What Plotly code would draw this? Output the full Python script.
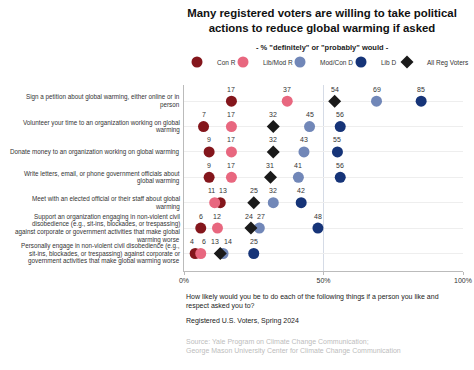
import plotly.graph_objects as go

categories = [
    "Sign a petition about global warming, either online or in<br>person",
    "Volunteer your time to an organization working on global<br>warming",
    "Donate money to an organization working on global warming",
    "Write letters, email, or phone government officials about<br>global warming",
    "Meet with an elected official or their staff about global<br>warming",
    "Support an organization engaging in non-violent civil<br>disobedience (e.g., sit-ins, blockades, or trespassing)<br>against corporate or government activities that make global<br>warming worse",
    "Personally engage in non-violent civil disobedience (e.g.,<br>sit-ins, blockades, or trespassing) against corporate or<br>government activities that make global warming worse",
]
con_r = [17, 7, 9, 9, 13, 6, 4]
lib_mod_r = [37, 17, 17, 17, 11, 12, 6]
mod_con_d = [69, 45, 43, 41, 32, 27, 14]
lib_d = [85, 56, 55, 56, 42, 48, 25]
all_reg = [54, 32, 32, 31, 25, 24, 13]

x_ticks = [0, 50, 100]
x_ticklabels = ["0%", "50%", "100%"]

series_names = ["Con R", "Lib/Mod R", "Mod/Con D", "Lib D", "All Reg Voters"]
series_values = [con_r, lib_mod_r, mod_con_d, lib_d, all_reg]
series_colors = ["#84161c", "#e8677f", "#7187b8", "#163478", "#1a1a1a"]
series_symbols = ["circle", "circle", "circle", "circle", "diamond"]
series_sizes = [11, 11, 11, 11, 10]
legend_widths = [1, 12, 16, 1, 42]

W, H = 474, 370
ML, MR, MT, MB = 184, 11, 85, 99
PW, PH = W - ML - MR, H - MT - MB

FONT = "Liberation Sans, Arial, sans-serif"
fig = go.Figure()
for name, vals, color, sym, size, lw in zip(series_names, series_values, series_colors,
                                            series_symbols, series_sizes, legend_widths):
    fig.add_trace(go.Scatter(
        x=vals, y=categories, mode="markers", name=name, legendwidth=lw,
        marker=dict(color=color, symbol=sym, size=size, line=dict(width=0)),
        hoverinfo="x+name",
    ))

annotations = []
# value labels above markers, nudged apart when close
for i, cat in enumerate(categories):
    vals = [(series_values[k][i], k) for k in range(len(series_values))]
    vals_sorted = sorted(vals)
    shifts = {k: 0 for _, k in vals}
    for a, b in zip(vals_sorted, vals_sorted[1:]):
        d = b[0] - a[0]
        if d <= 3:
            s = 5 if d <= 1 else (3 if d == 2 else 2)
            shifts[a[1]] -= s
            shifts[b[1]] += s
    for v, k in vals:
        annotations.append(dict(
            x=v, y=cat, xref="x", yref="y", text=str(v), showarrow=False,
            yshift=12, xshift=shifts[k], font=dict(size=7, color="#333333", family=FONT),
        ))

# category labels, one line at a time for tight line spacing
LINE = 7.6
for cat in categories:
    lines = cat.split("<br>")
    n = len(lines)
    for j, ln in enumerate(lines):
        annotations.append(dict(
            x=0, y=cat, xref="paper", yref="y", text=ln, showarrow=False,
            xanchor="right", yanchor="middle", xshift=-2,
            yshift=((n - 1) / 2 - j) * LINE,
            font=dict(size=6.3, color="#333333", family=FONT),
        ))

def px_x(x):
    return (x - ML) / PW

def px_y(y):
    return (H - MB - y) / PH

annotations += [
    dict(xref="paper", yref="paper", x=0, y=px_y(291), xanchor="left", yanchor="top", align="left",
         text="How likely would you be to do each of the following things if a person you like and<br>respect asked you to?",
         showarrow=False, font=dict(size=7, color="#222222", family=FONT)),
    dict(xref="paper", yref="paper", x=0, y=px_y(315), xanchor="left", yanchor="top", align="left",
         text="Registered U.S. Voters, Spring 2024",
         showarrow=False, font=dict(size=7, color="#222222", family=FONT)),
    dict(xref="paper", yref="paper", x=0, y=px_y(336), xanchor="left", yanchor="top", align="left",
         text="Source: Yale Program on Climate Change Communication;<br>George Mason University Center for Climate Change Communication",
         showarrow=False, font=dict(size=7, color="#bdbdbd", family=FONT)),
    dict(xref="paper", yref="paper", x=px_x(322), y=px_y(48), xanchor="center", yanchor="middle",
         text="<b>- % \"definitely\" or \"probably\" would -</b>",
         showarrow=False, font=dict(size=7.5, color="#222222", family=FONT)),
]

fig.update_layout(
    width=W, height=H,
    margin=dict(l=ML, r=MR, t=MT, b=MB, autoexpand=False),
    paper_bgcolor="white", plot_bgcolor="white",
    font=dict(family=FONT, color="#333333"),
    title=dict(
        text="<b>Many registered voters are willing to take political<br>actions to reduce global warming if asked</b>",
        x=322 / W, xanchor="center", y=1 - 17 / H, yanchor="top",
        font=dict(size=11.4, color="#111111", family=FONT),
    ),
    legend=dict(orientation="h", x=px_x(177), xanchor="left", y=px_y(62), yanchor="middle",
                font=dict(size=6.5, color="#333333", family=FONT), itemwidth=30,
                traceorder="normal", borderwidth=0, bgcolor="rgba(0,0,0,0)"),
    showlegend=True,
    annotations=annotations,
    shapes=[dict(type="line", xref="x", yref="paper", x0=50, x1=50, y0=0, y1=1,
                 line=dict(color="#d5dbe6", width=1), layer="below")],
)
fig.update_xaxes(range=[0, 100], tickvals=x_ticks, ticktext=x_ticklabels, showgrid=False,
                 zeroline=False, showline=True, linecolor="#bbbbbb", linewidth=1,
                 ticks="outside", ticklen=3, tickcolor="#bbbbbb",
                 tickfont=dict(size=7, color="#333333"), fixedrange=True)
fig.update_yaxes(autorange="reversed", showgrid=True, gridcolor="#eeeeee", gridwidth=1,
                 showline=True, linecolor="#bbbbbb", linewidth=1, ticks="",
                 showticklabels=False, fixedrange=True)

fig.write_html("out.html", config={"displayModeBar": False},
               post_script="document.body.style.margin='0';")
